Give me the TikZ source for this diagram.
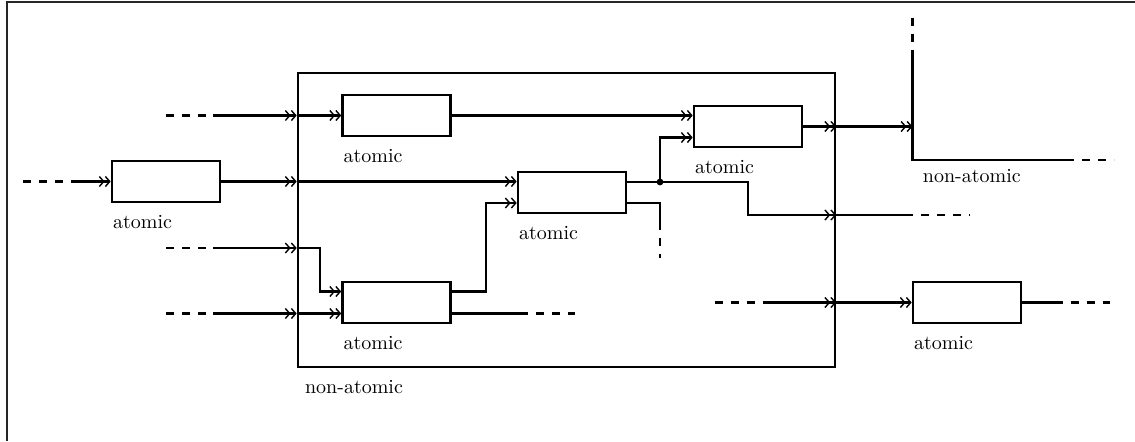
\documentclass[tikz,border=0pt]{standalone}
\usetikzlibrary{arrows.meta,positioning}

\tikzset{
  atomic/.style={draw, line width=1.3pt, minimum width=54pt, minimum height=20.5pt, inner sep=0pt},
  group/.style={draw, line width=1.3pt, minimum width=268.5pt, minimum height=147pt, inner sep=0pt},
  lbl/.style={anchor=base west, inner sep=0pt},
  wire/.style={line width=1.2pt},
  feed/.style={wire, -{Straight Barb[length=2.2pt,width=5pt,line width=0.7pt] Straight Barb[length=2.2pt,width=5pt,line width=0.7pt]}},
  loose/.style={wire, dash pattern=on 4pt off 4pt},
}

\begin{document}
\begin{tikzpicture}[x=0.5pt,y=-0.5pt]
  \useasboundingbox (0,0) rectangle (1135,441);
  \draw[line width=0.6pt, black!85] (7,441) -- (7,2) -- (1135,2);

  % composite block and the atomic parts
  \node[group] (na) at (566.5,220) {};
  \node[lbl] (nal) at ([shift={(4pt,-12.5pt)}]na.south west) {non-atomic};

  \node[atomic] (a1) at (166,181.5) {};
  \node[atomic] (b1) at (396.5,115.5) {};
  \node[atomic] (b2) at (572,192.5) {};
  \node[atomic] (b3) at (396.5,302.5) {};
  \node[atomic] (b4) at (748,126.5) {};
  \node[atomic] (b5) at (967,302.5) {};
  \foreach \n in {a1,b1,b2,b3,b4,b5}
    \node[lbl] (\n l) at ([shift={(1pt,-12.6pt)}]\n.south west) {atomic};

  % second composite, only its corner
  \coordinate (nb) at (912.5,160);
  \coordinate (nbt) at (912.5,18);
  \coordinate (nbts) at (912.5,52);
  \coordinate (nbr) at (1114,160);
  \coordinate (nbrs) at (1066,160);
  \draw[loose] (nbt) -- (nbts);
  \draw[wire] (nbts) -- (nb) -- (nbrs);
  \draw[loose] (nbrs) -- (nbr);
  \node[lbl] (nbl) at ([shift={(5pt,-11pt)}]nb) {non-atomic};

  % loose ends
  \coordinate (i0) at (23,181.5);  \coordinate (i0s) at (76,181.5);
  \coordinate (i1) at (166,115.5); \coordinate (i1s) at (213,115.5);
  \coordinate (i3) at (166,248);   \coordinate (i3s) at (213,248);
  \coordinate (i4) at (166,313.5); \coordinate (i4s) at (213,313.5);
  \coordinate (i5) at (715,302.5); \coordinate (i5s) at (770,302.5);
  \coordinate (o3) at (575,313.5); \coordinate (o3s) at (520,313.5);
  \coordinate (o2) at (970,215);   \coordinate (o2s) at (905,215);
  \coordinate (o5) at (1110,302.5); \coordinate (o5s) at (1055,302.5);
  \coordinate (d2) at (660,258);   \coordinate (d2s) at (660,222);
  \coordinate (j) at (660,182);

  % inputs
  \draw[loose] (i0) -- (i0s);
  \draw[feed] (i0s) -- (a1.west);
  \draw[feed] (a1.east) -- (na.west |- a1);
  \draw[feed] (na.west |- a1) -- (b2.west |- a1);

  \draw[loose] (i1) -- (i1s);
  \draw[feed] (i1s) -- (na.west |- i1);
  \draw[feed] (na.west |- i1) -- (b1.west);

  \draw[loose] (i3) -- (i3s);
  \draw[feed] (i3s) -- (na.west |- i3);
  \draw[feed] (na.west |- i3) -- (320,248) |- ([yshift=5.5pt]b3.west);

  \draw[loose] (i4) -- (i4s);
  \draw[feed] (i4s) -- (na.west |- i4);
  \draw[feed] (na.west |- i4) -- ([yshift=-5.5pt]b3.west);

  % inside
  \draw[feed] ([yshift=5.5pt]b3.east) -- ++(17pt,0) |- ([yshift=-5.25pt]b2.west);
  \draw[wire] ([yshift=-5.5pt]b3.east) -- (o3s);
  \draw[loose] (o3s) -- (o3);

  \draw[feed] (b1.east) -- (b4.west |- b1);
  \draw[wire] ([yshift=5.25pt]b2.east) -- (j);
  \fill (j) circle (1.7pt);
  \draw[feed] (j) |- ([yshift=-5.5pt]b4.west);
  \draw[feed] (j) -| (748,215) -- (na.east |- o2);
  \draw[wire] ([yshift=-5.25pt]b2.east) -| (d2s);
  \draw[loose] (d2s) -- (d2);

  % outputs
  \draw[feed] (b4.east) -- (na.east |- b4);
  \draw[feed] (na.east |- b4) -- (nb |- b4);
  \draw[wire] (na.east |- o2) -- (o2s);
  \draw[loose] (o2s) -- (o2);

  \draw[loose] (i5) -- (i5s);
  \draw[feed] (i5s) -- (na.east |- i5);
  \draw[feed] (na.east |- i5) -- (b5.west);
  \draw[wire] (b5.east) -- (o5s);
  \draw[loose] (o5s) -- (o5);
\end{tikzpicture}
\end{document}
